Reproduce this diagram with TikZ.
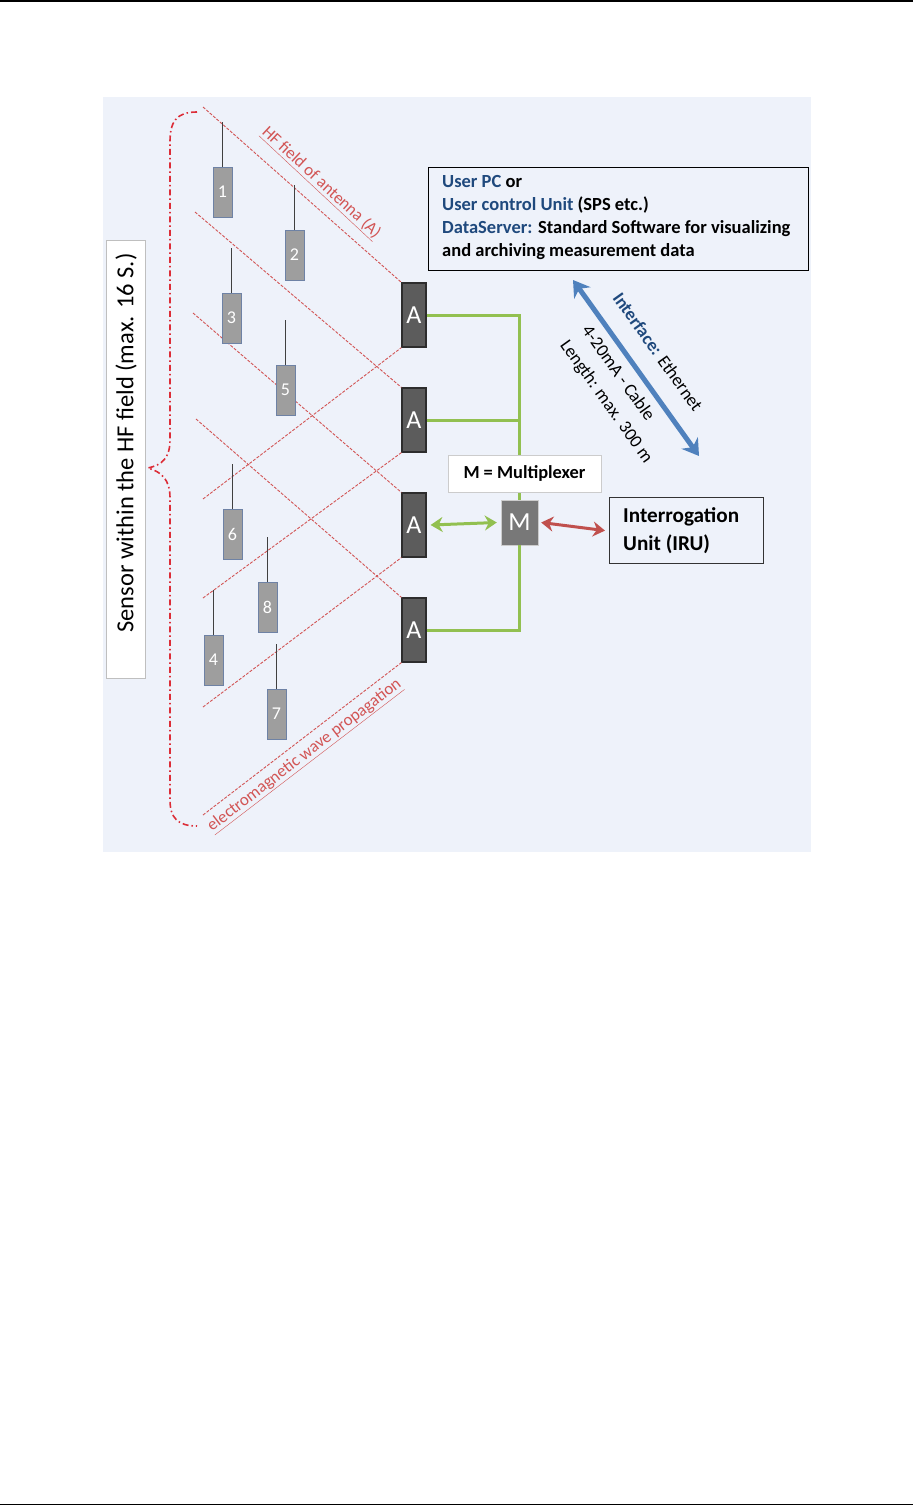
\documentclass[tikz,border=0pt]{standalone}
\usepackage{fontspec}
\setmainfont{Carlito}
\usetikzlibrary{arrows.meta}
\definecolor{bgc}{RGB}{238,242,250}
\definecolor{antfill}{RGB}{92,92,92}
\definecolor{antdraw}{RGB}{45,45,45}
\definecolor{muxfill}{RGB}{120,120,120}
\definecolor{sensfill}{RGB}{158,158,158}
\definecolor{sensdraw}{RGB}{110,130,165}
\definecolor{grn}{RGB}{146,192,80}
\definecolor{redarr}{RGB}{192,80,77}
\definecolor{bluarr}{RGB}{79,129,189}
\definecolor{dblue}{RGB}{31,73,125}
\definecolor{fieldred}{RGB}{210,85,85}
\definecolor{bracered}{RGB}{220,45,55}
\tikzset{
  antbox/.style={draw=antdraw,line width=1.2pt,fill=antfill,minimum width=24pt,minimum height=64pt,inner sep=0pt,text=white,font=\fontsize{26}{26}\selectfont},
  sensbox/.style={draw=sensdraw,line width=0.6pt,fill=sensfill,minimum width=19pt,minimum height=50pt,inner sep=0pt,text=white,font=\fontsize{18}{18}\selectfont},
  antline/.style={draw=black!75,line width=1.6pt},
  fieldline/.style={draw=fieldred,line width=0.9pt,dash pattern=on 3pt off 1.5pt},
  greenline/.style={draw=grn,line width=3pt},
  fieldlabel/.style={text=fieldred,font=\fontsize{17}{17}\selectfont,inner sep=0pt},
  arrtext/.style={font=\fontsize{18}{18}\selectfont,inner sep=0pt},
  dblarrow/.style={{Stealth[length=12pt,width=15pt]}-{Stealth[length=12pt,width=15pt]}},
}
\newcommand{\ulbox}[1]{\underline{#1}}
\begin{document}
\begin{tikzpicture}[x=1pt,y=-1pt]
\useasboundingbox (0,0) rectangle (913,1506);
% page rules
\draw[line width=1.5pt] (0,1) -- (913,1);
\draw[line width=1.5pt] (0,1504.5) -- (913,1504.5);
% background panel
\fill[bgc] (103,97) rectangle (811,852);

% sensor label
\node[draw=black!25,fill=white,minimum width=39pt,minimum height=438pt,inner sep=0pt] (senslab) at (125.5,459) {};
\node[rotate=90,inner sep=0pt,font=\fontsize{24.5}{24.5}\selectfont] (senstext) at (126,443) {Sensor within the HF field (max. 16 S.)};

% brace
\draw[bracered,line width=1.6pt,dash pattern=on 6pt off 3pt on 1.5pt off 3pt]
 (197,112) .. controls (176,112) and (170,122) .. (170,142) -- (170,440)
 .. controls (170,458) and (162,465) .. (148,468)
 .. controls (162,472) and (170,480) .. (170,498) -- (170,800)
 .. controls (170,818) and (178,826) .. (197,826);

% antennas
\node[antbox] (A1) at (414,315) {A};
\node[antbox] (A2) at (414,420) {A};
\node[antbox] (A3) at (414,525) {A};
\node[antbox] (A4) at (414,630) {A};

% field lines (down-right)
\coordinate (f1) at (203,107);
\coordinate (f2) at (195,212);
\coordinate (f3) at (193,313);
\coordinate (f4) at (196,419);
\draw[fieldline] (f1) -- (A1.north west);
\draw[fieldline] (f2) -- (A2.north west);
\draw[fieldline] (f3) -- (A3.north west);
\draw[fieldline] (f4) -- (A4.north west);
% propagation lines (up-right)
\coordinate (g1) at (203,499);
\coordinate (g2) at (203,598);
\coordinate (g3) at (203,707);
\coordinate (g4) at (203,815);
\draw[fieldline] (g1) -- (A1.south west);
\draw[fieldline] (g2) -- (A2.south west);
\draw[fieldline] (g3) -- (A3.south west);
\draw[fieldline] (g4) -- (A4.south west);

% field labels
\node[fieldlabel,rotate=-43] (hflab) at (321,183) {\ulbox{HF field of antenna (A)}};
\node[fieldlabel,rotate=37.5] (emlab) at (305,756) {\ulbox{electromagnetic wave propagation}};

% sensors
\foreach \n/\x/\y in {1/222.5/192, 2/294.5/255, 3/231.5/318, 5/285.5/390, 6/232.5/534, 8/267.5/607, 4/213.5/660, 7/276.5/714}{
  \node[sensbox] (s\n) at (\x,\y) {\n};
  \draw[antline] (s\n.north) -- ++(0,-45);
}

% multiplexer
\node[draw=black!20,fill=muxfill,minimum width=37pt,minimum height=45pt,inner sep=0pt,text=white,font=\fontsize{26}{26}\selectfont] (M) at (519.5,522.5) {M};

% green bus
\draw[greenline] (A1.east) -| (M.north);
\draw[greenline] (A2.east) -- (A2.east -| M.north);
\draw[greenline] (A4.east) -| (M.south);

% multiplexer label
\node[draw=black!20,fill=white,minimum width=153pt,minimum height=37pt,inner sep=0pt,font=\bfseries\fontsize{18.4}{18.4}\selectfont] (muxlab) at (524.5,473.5) {M = Multiplexer};

% IRU
\node[draw=black!80,line width=1.2pt,minimum width=154pt,minimum height=66pt,inner sep=0pt,anchor=north west] (IRU) at (609,497) {};
\node[anchor=west,align=left,inner sep=0pt,font=\bfseries\fontsize{21.2}{28}\selectfont] (irutext) at (623,531) {Interrogation\\Unit (IRU)};

% arrows
\draw[grn,line width=3pt,dblarrow] ([xshift=4pt]A3.east) -- ([xshift=-4pt]M.west);
\draw[redarr,line width=3pt,dblarrow] ([xshift=3pt]M.east) -- ([xshift=-4pt]IRU.west);

% user PC box
\node[draw=black,line width=1.2pt,minimum width=380pt,minimum height=103pt,inner sep=0pt,anchor=north west] (PC) at (428,167) {};
\node[anchor=north west,align=left,inner sep=0pt,font=\bfseries\fontsize{18.5}{23}\selectfont] (pctext) at (442,175) {\textcolor{dblue}{User PC} or\\\textcolor{dblue}{User control Unit} (SPS etc.)\\\textcolor{dblue}{DataServer:} Standard Software for visualizing\\and archiving measurement data};

% interface arrow
\coordinate (ifstart) at (573,280);
\coordinate (ifend) at (699,456);
\draw[bluarr,line width=5pt,{Stealth[length=16pt,width=20pt]}-{Stealth[length=16pt,width=20pt]}] (ifstart) -- (ifend);
\node[arrtext,rotate=-54.5] (iftext) at (658,352) {\textcolor{dblue}{\bfseries Interface:} Ethernet};
\node[arrtext,rotate=-54.5] (cabtext) at (619,373) {4-20mA - Cable};
\node[arrtext,rotate=-54.5] (lentext) at (606,402) {Length: max. 300 m};
\end{tikzpicture}
\end{document}
